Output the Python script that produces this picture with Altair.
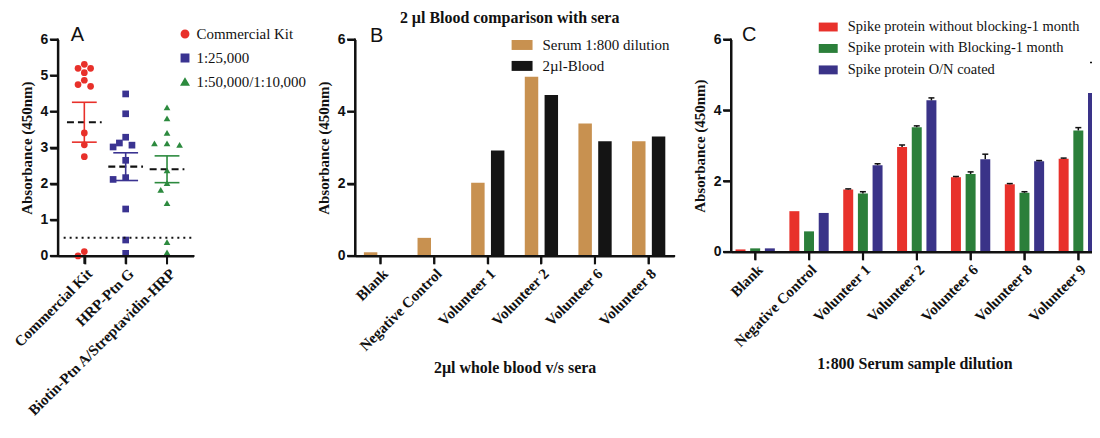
import json
import altair as alt
import pandas as pd

# ---------------- Panel A data ----------------
a_groups = ["Commercial Kit", "HRP-Ptn G", "Biotin-Ptn A/Streptavidin-HRP"]
a_series = ["Commercial Kit", "1:25,000", "1:50,000/1:10,000"]
a_kit = [5.31, 5.20, 5.08, 5.20, 4.87, 4.70, 4.75, 3.41, 3.08, 2.75, 0.12, 0.00]
a_ptng = [4.49, 3.94, 3.29, 3.13, 3.07, 3.02, 2.65, 2.17, 2.12, 1.30, 0.44, 0.07]
a_ptna = [4.12, 3.81, 3.41, 3.12, 3.12, 3.08, 2.37, 2.02, 1.83, 1.46, 0.38, 0.10]
a_cutoff = [0.5]
a_yticks = [0, 1, 2, 3, 4, 5, 6]
a_colors = ["#E8302A", "#3A3391", "#2C8A3E"]
a_shapes = ["circle", "square", "triangle-up"]

# ---------------- Panel B data ----------------
b_categories = ["Blank", "Negative Control", "Volunteer 1", "Volunteer 2", "Volunteer 6", "Volunteer 8"]
b_series = ["Serum 1:800 dilution", "2\u00b5l-Blood"]
b_serum = [0.10, 0.50, 2.03, 4.97, 3.67, 3.18]
b_blood = [None, None, 2.92, 4.46, 3.18, 3.31]
b_yticks = [0, 2, 4, 6]
b_colors = ["#C89150", "#141414"]

# ---------------- Panel C data ----------------
c_categories = ["Blank", "Negative Control", "Volunteer 1", "Volunteer 2", "Volunteer 6", "Volunteer 8", "Volunteer 9"]
c_series = ["Spike protein without blocking-1 month", "Spike protein with Blocking-1 month", "Spike protein O/N coated"]
c_without = [0.07, 1.15, 1.76, 2.96, 2.11, 1.91, 2.63]
c_without_err = [0.0, 0.0, 0.02, 0.06, 0.02, 0.02, 0.02]
c_with = [0.10, 0.58, 1.65, 3.52, 2.20, 1.67, 3.43]
c_with_err = [0.0, 0.0, 0.05, 0.04, 0.06, 0.03, 0.08]
c_coated = [0.10, 1.10, 2.45, 4.28, 2.62, 2.56, 4.49]
c_coated_err = [0.0, 0.0, 0.04, 0.07, 0.14, 0.02, 0.86]
c_yticks = [0, 2, 4, 6]
c_colors = ["#E8312B", "#2B7F3A", "#3A3388"]

YTITLE = "Absorbance (450nm)"
SERIF = "Liberation Serif"
SANS = "Liberation Sans"
INK = "#111111"
TICK = 8
M = 10  # inner margin (left and bottom) that holds the axis lines and ticks


def y_axis(vals):
    return alt.Axis(values=vals, title=YTITLE, domain=True, ticks=True, grid=False, offset=-M,
                    domainColor=INK, domainWidth=2, tickColor=INK, tickWidth=2, tickSize=TICK,
                    labelFont=SANS, labelFontWeight="bold", labelFontSize=14, labelPadding=2,
                    labelColor=INK, labelOverlap=False,
                    titleFont=SERIF, titleFontWeight="bold", titleFontSize=15,
                    titlePadding=6, titleColor=INK)


def x_axis(title=None, values=None, label_expr=None):
    kw = dict(title=title, domain=True, ticks=True, grid=False, offset=-M,
              domainColor=INK, domainWidth=2, tickColor=INK, tickWidth=2, tickSize=TICK,
              labelFont=SERIF, labelFontWeight="bold", labelFontSize=15, labelAngle=-45,
              labelAlign="right", labelBaseline="top", labelPadding=2, labelColor=INK,
              labelOverlap=False, labelLimit=400,
              titleFont=SERIF, titleFontWeight="bold", titleFontSize=16, titlePadding=6,
              titleColor=INK)
    if values is not None:
        kw["values"] = values
    if label_expr is not None:
        kw["labelExpr"] = label_expr
    return alt.Axis(**kw)


def frame(W, H, yticks, y_scale, y_ax, x_tick_df, x_enc):
    """axis lines and tick marks, drawn inside the enlarged plot area"""
    y_line = alt.Chart(pd.DataFrame({"lo": [yticks[0]], "hi": [yticks[-1]]})).mark_rule(
        strokeWidth=2, color=INK, strokeCap="square").encode(
        x=alt.value(M), y=alt.Y("lo:Q", scale=y_scale, axis=y_ax), y2="hi:Q")
    y_ticks = alt.Chart(pd.DataFrame({"v": yticks})).mark_rule(strokeWidth=2, color=INK).encode(
        x=alt.value(M - TICK), x2=alt.value(M), y=alt.Y("v:Q", scale=y_scale, axis=y_ax))
    x_line = alt.Chart(pd.DataFrame({"v": [0]})).mark_rule(
        strokeWidth=2, color=INK, strokeCap="square").encode(
        x=alt.value(M), x2=alt.value(M + W), y=alt.value(H))
    x_ticks = alt.Chart(x_tick_df).mark_rule(strokeWidth=2, color=INK).encode(
        x=x_enc, y=alt.value(H), y2=alt.value(H + TICK))
    return [y_line, y_ticks, x_line, x_ticks]


def letter(t, dx, dy):
    return alt.Chart(pd.DataFrame({"t": [t]})).mark_text(
        font=SANS, fontSize=20, align="left", baseline="alphabetic", color=INK
    ).encode(text="t:N", x=alt.value(M + dx), y=alt.value(dy))


# ---------------- Panel A ----------------
A_W, A_H = 136, 217
A_DOM = [-0.64, 2.64]
px_x = A_W / (A_DOM[1] - A_DOM[0])
px_y = A_H / 6.0
DIAM = 7.0


def swarm(values):
    """simple beeswarm: horizontal offsets (in x units) avoiding overlap"""
    placed = []
    offs = [0.0] * len(values)
    order = sorted(range(len(values)), key=lambda i: -values[i])
    cands = [0.0]
    for s in range(1, 10):
        cands += [-s * DIAM * 0.9, s * DIAM * 0.9]
    for i in order:
        y = values[i] * px_y
        chosen = cands[-1]
        for c in cands:
            if all((c - px) ** 2 + (y - py) ** 2 >= DIAM ** 2 for px, py in placed):
                chosen = c
                break
        placed.append((chosen, y))
        offs[i] = chosen / px_x
    return offs


a_rows = []
for gi, (ser, vals) in enumerate(zip(a_series, [a_kit, a_ptng, a_ptna])):
    for v, o in zip(vals, swarm(vals)):
        a_rows.append({"idx": gi, "series": ser, "val": v, "xpos": gi + o})
a_df = pd.DataFrame(a_rows)

label_expr = "[" + ",".join(json.dumps(g) for g in a_groups) + "][datum.value]"
a_x_scale = alt.Scale(domain=A_DOM, nice=False, zero=False, range=[M, M + A_W])
a_y_scale = alt.Scale(domain=[0, 6], nice=False, range=[A_H, 0])
A_XAX = x_axis(None, list(range(len(a_groups))), label_expr)
A_YAX = y_axis(a_yticks)

a_legend = alt.Legend(title=None, orient="none", legendX=120 + M, legendY=-13,
                      labelFont=SERIF, labelFontSize=15, symbolSize=55,
                      rowPadding=8, labelOffset=4, labelLimit=400)
a_color = alt.Color("series:N", scale=alt.Scale(domain=a_series, range=a_colors), legend=a_legend)
a_shape = alt.Shape("series:N", scale=alt.Scale(domain=a_series, range=a_shapes), legend=a_legend)
a_color_nl = alt.Color("series:N", scale=alt.Scale(domain=a_series, range=a_colors), legend=None)

a_points = alt.Chart(a_df).mark_point(filled=True, size=45, opacity=1).encode(
    x=alt.X("xpos:Q", scale=a_x_scale, axis=A_XAX),
    y=alt.Y("val:Q", scale=a_y_scale, axis=A_YAX),
    color=a_color,
    shape=a_shape,
)

a_stats = alt.Chart(a_df).transform_aggregate(
    mean="mean(val)", sem="stderr(val)", groupby=["idx", "series"]
).transform_calculate(
    x0="datum.idx - 0.42", x1="datum.idx + 0.42",
    c0="datum.idx - 0.3", c1="datum.idx + 0.3",
    lo="datum.mean - datum.sem", hi="datum.mean + datum.sem",
)
a_err = a_stats.mark_rule(strokeWidth=1.6).encode(
    x=alt.X("idx:Q", scale=a_x_scale, axis=A_XAX),
    y=alt.Y("lo:Q", scale=a_y_scale, axis=A_YAX), y2="hi:Q",
    color=a_color_nl,
)
a_cap_hi = a_stats.mark_rule(strokeWidth=1.6).encode(
    x=alt.X("c0:Q", scale=a_x_scale, axis=A_XAX), x2="c1:Q",
    y=alt.Y("hi:Q", scale=a_y_scale, axis=A_YAX),
    color=a_color_nl,
)
a_cap_lo = a_stats.mark_rule(strokeWidth=1.6).encode(
    x=alt.X("c0:Q", scale=a_x_scale, axis=A_XAX), x2="c1:Q",
    y=alt.Y("lo:Q", scale=a_y_scale, axis=A_YAX),
    color=a_color_nl,
)
a_mean = a_stats.mark_rule(strokeWidth=2.2, strokeDash=[7, 4], color=INK).encode(
    x=alt.X("x0:Q", scale=a_x_scale, axis=A_XAX), x2="x1:Q",
    y=alt.Y("mean:Q", scale=a_y_scale, axis=A_YAX),
)
a_cut = alt.Chart(pd.DataFrame({"y": a_cutoff})).mark_rule(
    strokeWidth=2, strokeDash=[2, 4], color=INK
).encode(
    y=alt.Y("y:Q", scale=a_y_scale, axis=A_YAX),
    x=alt.datum(-0.5), x2=alt.datum(A_DOM[1]),
)
a_frame = frame(A_W, A_H, a_yticks, a_y_scale, A_YAX,
                pd.DataFrame({"idx": list(range(len(a_groups)))}),
                alt.X("idx:Q", scale=a_x_scale, axis=A_XAX))

panel_a = alt.layer(a_points, a_cut, a_mean, a_err, a_cap_hi, a_cap_lo, *a_frame,
                    letter("A", 13, 2)).properties(width=A_W + M, height=A_H + M)

# ---------------- Panel B ----------------
B_W = 320
b_rows = []
for cat, s, bl in zip(b_categories, b_serum, b_blood):
    b_rows.append({"cat": cat, "series": b_series[0], "val": s})
    if bl is not None:
        b_rows.append({"cat": cat, "series": b_series[1], "val": bl})
b_df = pd.DataFrame(b_rows)

B_YAX = y_axis(b_yticks)
b_yscale = alt.Scale(domain=[0, 6], nice=False, range=[A_H, 0])
b_x = alt.X("cat:N", sort=b_categories,
            scale=alt.Scale(domain=b_categories, paddingInner=0.38, paddingOuter=0.165,
                            range=[M, M + B_W]),
            axis=x_axis("2\u00b5l whole blood v/s sera"))
b_bars = alt.Chart(b_df).mark_bar().encode(
    x=b_x,
    xOffset=alt.XOffset("series:N", scale=alt.Scale(domain=b_series, paddingInner=0.32, paddingOuter=0)),
    y=alt.Y("val:Q", scale=b_yscale, axis=B_YAX),
    color=alt.Color("series:N", scale=alt.Scale(domain=b_series, range=b_colors),
                    legend=alt.Legend(title=None, orient="none", legendX=157 + M, legendY=-5,
                                      labelFont=SERIF, labelFontSize=15,
                                      symbolType="M-1,-0.476H1V0.476H-1Z", symbolSize=441,
                                      symbolStrokeWidth=0, rowPadding=2, labelOffset=10,
                                      labelLimit=400)),
)
b_frame = frame(B_W, A_H, b_yticks, b_yscale, B_YAX,
                pd.DataFrame({"cat": b_categories}), b_x)
panel_b = alt.layer(b_bars, *b_frame, letter("B", 15, 3)).properties(
    width=B_W + M, height=A_H + M,
    title=alt.TitleParams("2 \u00b5l Blood comparison with sera", font=SERIF, fontSize=16,
                          fontWeight="bold", anchor="middle", color=INK, offset=1),
)

# ---------------- Panel C ----------------
C_W, C_H = 368, 213
c_rows = []
for ser, vals, errs in zip(c_series, [c_without, c_with, c_coated],
                           [c_without_err, c_with_err, c_coated_err]):
    for cat, v, e in zip(c_categories, vals, errs):
        c_rows.append({"cat": cat, "series": ser, "val": v, "err": e})
c_df = pd.DataFrame(c_rows)

C_XAX = x_axis("1:800 Serum sample dilution")
C_YAX = y_axis(c_yticks)
c_x = alt.X("cat:N", sort=c_categories,
            scale=alt.Scale(domain=c_categories, paddingInner=0.27, paddingOuter=0.042, align=1,
                            range=[M, M + C_W]),
            axis=C_XAX)
c_xo = alt.XOffset("series:N", scale=alt.Scale(domain=c_series, paddingInner=0.32, paddingOuter=0))
c_yscale = alt.Scale(domain=[0, 6], nice=False, range=[C_H, 0])

c_bars = alt.Chart(c_df).mark_bar().encode(
    x=c_x, xOffset=c_xo,
    y=alt.Y("val:Q", scale=c_yscale, axis=C_YAX),
    color=alt.Color("series:N", scale=alt.Scale(domain=c_series, range=c_colors),
                    legend=alt.Legend(title=None, orient="none", legendX=88 + M, legendY=-22,
                                      labelFont=SERIF, labelFontSize=14.5,
                                      symbolType="M-1,-0.47H1V0.47H-1Z", symbolSize=361,
                                      symbolStrokeWidth=0, rowPadding=5.5, labelOffset=10,
                                      labelLimit=400)),
)
c_errbase = alt.Chart(c_df).transform_filter("datum.err > 0").transform_calculate(
    hi="datum.val + datum.err")
c_err = c_errbase.mark_rule(strokeWidth=1.5, color=INK).encode(
    x=c_x, xOffset=c_xo,
    y=alt.Y("val:Q", scale=c_yscale, axis=C_YAX), y2="hi:Q",
)
c_cap = c_errbase.mark_tick(thickness=1.5, size=6, color=INK, opacity=1).encode(
    x=c_x, xOffset=c_xo,
    y=alt.Y("hi:Q", scale=c_yscale, axis=C_YAX),
)
c_frame = frame(C_W, C_H, c_yticks, c_yscale, C_YAX,
                pd.DataFrame({"cat": c_categories}), c_x)
panel_c = alt.layer(c_bars, c_err, c_cap, *c_frame, letter("C", 11, 2)).properties(
    width=C_W + M, height=C_H + M)

# spacer between A and B
spacer = alt.Chart(pd.DataFrame({"v": [0]})).mark_point(opacity=0).encode(
    x=alt.X("v:Q", axis=None), y=alt.Y("v:Q", axis=None)
).properties(width=58, height=10)

chart = alt.hconcat(panel_a, spacer, panel_b, panel_c, spacing=47, bounds="flush").resolve_scale(
    color="independent", shape="independent", x="independent", y="independent", xOffset="independent"
).properties(
    padding={"top": 1, "left": 3, "right": -8, "bottom": 0},
    background="white",
).configure_view(stroke=None).configure_legend(labelColor=INK)

chart.save("out.html", embed_options={"renderer": "svg", "actions": False})
